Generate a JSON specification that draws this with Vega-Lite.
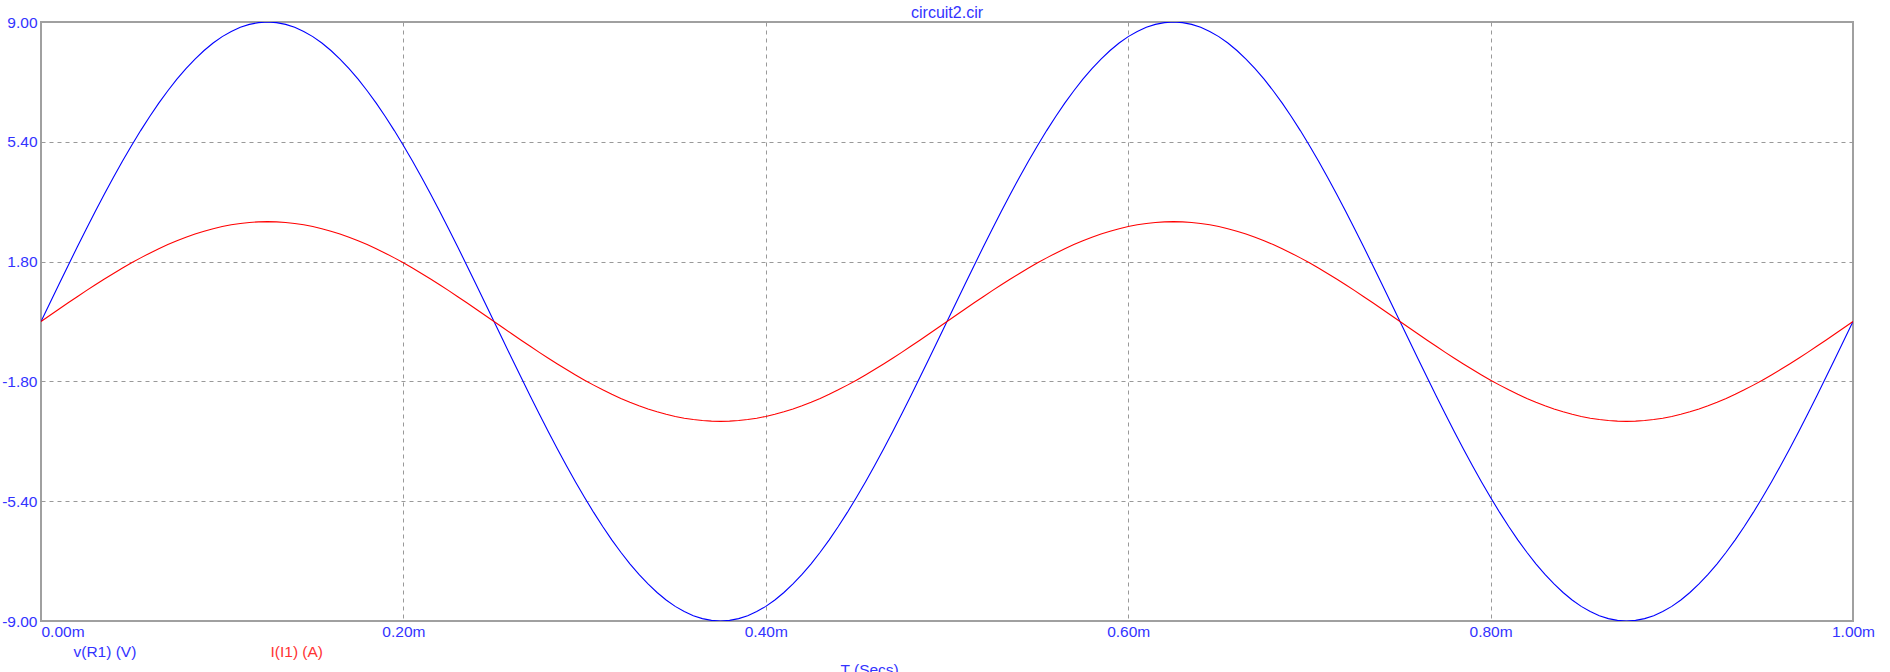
{
"$schema": "https://vega.github.io/schema/vega-lite/v6.json",
"width": 1812, "height": 599,
"autosize": {"type": "none"},
"padding": {"left": 41, "top": 22, "right": 37, "bottom": 51},
"background": "white",
"config": {"view": {"stroke": "#a0a0a0", "strokeWidth": 2}, "font": "Liberation Sans"},
"title": {"text": "circuit2.cir", "fontSize": 16, "color": "#3333ff", "font": "Liberation Sans", "fontWeight": "normal", "anchor": "middle", "offset": -6},
"data": {"values": [
{"t":0,"v":0,"i":0},{"t":0.005,"v":0.565,"i":0.188},{"t":0.01,"v":1.128,"i":0.376},{"t":0.015,"v":1.686,"i":0.562},{"t":0.02,"v":2.238,"i":0.746},{"t":0.025,"v":2.781,"i":0.927},{"t":0.03,"v":3.313,"i":1.104},{"t":0.035,"v":3.832,"i":1.277},{"t":0.04,"v":4.336,"i":1.445},{"t":0.045,"v":4.822,"i":1.607},{"t":0.05,"v":5.29,"i":1.763},{"t":0.055,"v":5.737,"i":1.912},{"t":0.06,"v":6.161,"i":2.054},{"t":0.065,"v":6.561,"i":2.187},{"t":0.07,"v":6.935,"i":2.312},{"t":0.075,"v":7.281,"i":2.427},{"t":0.08,"v":7.599,"i":2.533},{"t":0.085,"v":7.887,"i":2.629},{"t":0.09,"v":8.143,"i":2.714},{"t":0.095,"v":8.368,"i":2.789},{"t":0.1,"v":8.56,"i":2.853},{"t":0.105,"v":8.717,"i":2.906},{"t":0.11,"v":8.841,"i":2.947},{"t":0.115,"v":8.929,"i":2.976},{"t":0.12,"v":8.982,"i":2.994},{"t":0.125,"v":9,"i":3},
{"t":0.13,"v":8.982,"i":2.994},{"t":0.135,"v":8.929,"i":2.976},{"t":0.14,"v":8.841,"i":2.947},{"t":0.145,"v":8.717,"i":2.906},{"t":0.15,"v":8.56,"i":2.853},{"t":0.155,"v":8.368,"i":2.789},{"t":0.16,"v":8.143,"i":2.714},{"t":0.165,"v":7.887,"i":2.629},{"t":0.17,"v":7.599,"i":2.533},{"t":0.175,"v":7.281,"i":2.427},{"t":0.18,"v":6.935,"i":2.312},{"t":0.185,"v":6.561,"i":2.187},{"t":0.19,"v":6.161,"i":2.054},{"t":0.195,"v":5.737,"i":1.912},{"t":0.2,"v":5.29,"i":1.763},{"t":0.205,"v":4.822,"i":1.607},{"t":0.21,"v":4.336,"i":1.445},{"t":0.215,"v":3.832,"i":1.277},{"t":0.22,"v":3.313,"i":1.104},{"t":0.225,"v":2.781,"i":0.927},{"t":0.23,"v":2.238,"i":0.746},{"t":0.235,"v":1.686,"i":0.562},{"t":0.24,"v":1.128,"i":0.376},{"t":0.245,"v":0.565,"i":0.188},{"t":0.25,"v":0,"i":0},
{"t":0.255,"v":-0.565,"i":-0.188},{"t":0.26,"v":-1.128,"i":-0.376},{"t":0.265,"v":-1.686,"i":-0.562},{"t":0.27,"v":-2.238,"i":-0.746},{"t":0.275,"v":-2.781,"i":-0.927},{"t":0.28,"v":-3.313,"i":-1.104},{"t":0.285,"v":-3.832,"i":-1.277},{"t":0.29,"v":-4.336,"i":-1.445},{"t":0.295,"v":-4.822,"i":-1.607},{"t":0.3,"v":-5.29,"i":-1.763},{"t":0.305,"v":-5.737,"i":-1.912},{"t":0.31,"v":-6.161,"i":-2.054},{"t":0.315,"v":-6.561,"i":-2.187},{"t":0.32,"v":-6.935,"i":-2.312},{"t":0.325,"v":-7.281,"i":-2.427},{"t":0.33,"v":-7.599,"i":-2.533},{"t":0.335,"v":-7.887,"i":-2.629},{"t":0.34,"v":-8.143,"i":-2.714},{"t":0.345,"v":-8.368,"i":-2.789},{"t":0.35,"v":-8.56,"i":-2.853},{"t":0.355,"v":-8.717,"i":-2.906},{"t":0.36,"v":-8.841,"i":-2.947},{"t":0.365,"v":-8.929,"i":-2.976},{"t":0.37,"v":-8.982,"i":-2.994},{"t":0.375,"v":-9,"i":-3},
{"t":0.38,"v":-8.982,"i":-2.994},{"t":0.385,"v":-8.929,"i":-2.976},{"t":0.39,"v":-8.841,"i":-2.947},{"t":0.395,"v":-8.717,"i":-2.906},{"t":0.4,"v":-8.56,"i":-2.853},{"t":0.405,"v":-8.368,"i":-2.789},{"t":0.41,"v":-8.143,"i":-2.714},{"t":0.415,"v":-7.887,"i":-2.629},{"t":0.42,"v":-7.599,"i":-2.533},{"t":0.425,"v":-7.281,"i":-2.427},{"t":0.43,"v":-6.935,"i":-2.312},{"t":0.435,"v":-6.561,"i":-2.187},{"t":0.44,"v":-6.161,"i":-2.054},{"t":0.445,"v":-5.737,"i":-1.912},{"t":0.45,"v":-5.29,"i":-1.763},{"t":0.455,"v":-4.822,"i":-1.607},{"t":0.46,"v":-4.336,"i":-1.445},{"t":0.465,"v":-3.832,"i":-1.277},{"t":0.47,"v":-3.313,"i":-1.104},{"t":0.475,"v":-2.781,"i":-0.927},{"t":0.48,"v":-2.238,"i":-0.746},{"t":0.485,"v":-1.686,"i":-0.562},{"t":0.49,"v":-1.128,"i":-0.376},{"t":0.495,"v":-0.565,"i":-0.188},{"t":0.5,"v":0,"i":0},
{"t":0.505,"v":0.565,"i":0.188},{"t":0.51,"v":1.128,"i":0.376},{"t":0.515,"v":1.686,"i":0.562},{"t":0.52,"v":2.238,"i":0.746},{"t":0.525,"v":2.781,"i":0.927},{"t":0.53,"v":3.313,"i":1.104},{"t":0.535,"v":3.832,"i":1.277},{"t":0.54,"v":4.336,"i":1.445},{"t":0.545,"v":4.822,"i":1.607},{"t":0.55,"v":5.29,"i":1.763},{"t":0.555,"v":5.737,"i":1.912},{"t":0.56,"v":6.161,"i":2.054},{"t":0.565,"v":6.561,"i":2.187},{"t":0.57,"v":6.935,"i":2.312},{"t":0.575,"v":7.281,"i":2.427},{"t":0.58,"v":7.599,"i":2.533},{"t":0.585,"v":7.887,"i":2.629},{"t":0.59,"v":8.143,"i":2.714},{"t":0.595,"v":8.368,"i":2.789},{"t":0.6,"v":8.56,"i":2.853},{"t":0.605,"v":8.717,"i":2.906},{"t":0.61,"v":8.841,"i":2.947},{"t":0.615,"v":8.929,"i":2.976},{"t":0.62,"v":8.982,"i":2.994},{"t":0.625,"v":9,"i":3},
{"t":0.63,"v":8.982,"i":2.994},{"t":0.635,"v":8.929,"i":2.976},{"t":0.64,"v":8.841,"i":2.947},{"t":0.645,"v":8.717,"i":2.906},{"t":0.65,"v":8.56,"i":2.853},{"t":0.655,"v":8.368,"i":2.789},{"t":0.66,"v":8.143,"i":2.714},{"t":0.665,"v":7.887,"i":2.629},{"t":0.67,"v":7.599,"i":2.533},{"t":0.675,"v":7.281,"i":2.427},{"t":0.68,"v":6.935,"i":2.312},{"t":0.685,"v":6.561,"i":2.187},{"t":0.69,"v":6.161,"i":2.054},{"t":0.695,"v":5.737,"i":1.912},{"t":0.7,"v":5.29,"i":1.763},{"t":0.705,"v":4.822,"i":1.607},{"t":0.71,"v":4.336,"i":1.445},{"t":0.715,"v":3.832,"i":1.277},{"t":0.72,"v":3.313,"i":1.104},{"t":0.725,"v":2.781,"i":0.927},{"t":0.73,"v":2.238,"i":0.746},{"t":0.735,"v":1.686,"i":0.562},{"t":0.74,"v":1.128,"i":0.376},{"t":0.745,"v":0.565,"i":0.188},{"t":0.75,"v":0,"i":0},
{"t":0.755,"v":-0.565,"i":-0.188},{"t":0.76,"v":-1.128,"i":-0.376},{"t":0.765,"v":-1.686,"i":-0.562},{"t":0.77,"v":-2.238,"i":-0.746},{"t":0.775,"v":-2.781,"i":-0.927},{"t":0.78,"v":-3.313,"i":-1.104},{"t":0.785,"v":-3.832,"i":-1.277},{"t":0.79,"v":-4.336,"i":-1.445},{"t":0.795,"v":-4.822,"i":-1.607},{"t":0.8,"v":-5.29,"i":-1.763},{"t":0.805,"v":-5.737,"i":-1.912},{"t":0.81,"v":-6.161,"i":-2.054},{"t":0.815,"v":-6.561,"i":-2.187},{"t":0.82,"v":-6.935,"i":-2.312},{"t":0.825,"v":-7.281,"i":-2.427},{"t":0.83,"v":-7.599,"i":-2.533},{"t":0.835,"v":-7.887,"i":-2.629},{"t":0.84,"v":-8.143,"i":-2.714},{"t":0.845,"v":-8.368,"i":-2.789},{"t":0.85,"v":-8.56,"i":-2.853},{"t":0.855,"v":-8.717,"i":-2.906},{"t":0.86,"v":-8.841,"i":-2.947},{"t":0.865,"v":-8.929,"i":-2.976},{"t":0.87,"v":-8.982,"i":-2.994},{"t":0.875,"v":-9,"i":-3},
{"t":0.88,"v":-8.982,"i":-2.994},{"t":0.885,"v":-8.929,"i":-2.976},{"t":0.89,"v":-8.841,"i":-2.947},{"t":0.895,"v":-8.717,"i":-2.906},{"t":0.9,"v":-8.56,"i":-2.853},{"t":0.905,"v":-8.368,"i":-2.789},{"t":0.91,"v":-8.143,"i":-2.714},{"t":0.915,"v":-7.887,"i":-2.629},{"t":0.92,"v":-7.599,"i":-2.533},{"t":0.925,"v":-7.281,"i":-2.427},{"t":0.93,"v":-6.935,"i":-2.312},{"t":0.935,"v":-6.561,"i":-2.187},{"t":0.94,"v":-6.161,"i":-2.054},{"t":0.945,"v":-5.737,"i":-1.912},{"t":0.95,"v":-5.29,"i":-1.763},{"t":0.955,"v":-4.822,"i":-1.607},{"t":0.96,"v":-4.336,"i":-1.445},{"t":0.965,"v":-3.832,"i":-1.277},{"t":0.97,"v":-3.313,"i":-1.104},{"t":0.975,"v":-2.781,"i":-0.927},{"t":0.98,"v":-2.238,"i":-0.746},{"t":0.985,"v":-1.686,"i":-0.562},{"t":0.99,"v":-1.128,"i":-0.376},{"t":0.995,"v":-0.565,"i":-0.188},{"t":1,"v":0,"i":0}
]},
"transform": [{"fold": ["v", "i"], "as": ["s", "val"]}],
"mark": {"type": "line", "strokeWidth": 1.1, "clip": true},
"encoding": {
  "x": {"field": "t", "type": "quantitative",
    "scale": {"domain": [0, 1], "nice": false, "zero": false},
    "axis": {"values": [0, 0.2, 0.4, 0.6, 0.8, 1], "labelExpr": "format(datum.value, '.2f') + 'm'",
      "labelAlign": {"condition": {"test": "datum.value == 0", "value": "left"}, "value": "center"},
      "labelBound": false, "labelOverlap": false, "labelFlush": false,
      "grid": true, "gridDash": [4, 4], "gridColor": "#999999", "gridWidth": 1,
      "gridOpacity": {"condition": {"test": "datum.value == 0 || datum.value == 1", "value": 0}, "value": 1},
      "domain": false, "ticks": false, "tickSize": 0, "labelPadding": 3,
      "labelColor": "#3333ff", "labelFont": "Liberation Sans", "labelFontSize": 15.5,
      "title": "T (Secs)", "titleX": 799, "titleY": 53, "titleAlign": "left", "titleBaseline": "alphabetic", "titleAnchor": null,
      "titleColor": "#3333ff", "titleFont": "Liberation Sans", "titleFontSize": 15.5, "titleFontWeight": "normal"}},
  "y": {"field": "val", "type": "quantitative",
    "scale": {"domain": [-9, 9], "nice": false, "zero": false},
    "axis": {"values": [-9, -5.4, -1.8, 1.8, 5.4, 9],
      "labelExpr": "(datum.value < 0 ? '-' : '') + format(abs(datum.value), '.2f')",
      "grid": true, "gridDash": [4, 4], "gridColor": "#999999", "gridWidth": 1,
      "gridOpacity": {"condition": {"test": "abs(datum.value) > 8.9", "value": 0}, "value": 1},
      "domain": false, "ticks": false, "tickSize": 0, "labelPadding": 4, "labelBound": false, "labelOverlap": false, "labelFlush": false,
      "labelColor": "#3333ff", "labelFont": "Liberation Sans", "labelFontSize": 15.5, "title": null}},
  "color": {"field": "s", "type": "nominal",
    "scale": {"domain": ["v", "i"], "range": ["#0000ff", "#ff0000"]},
    "legend": {"orient": "none", "legendX": 17, "legendY": 622, "direction": "horizontal", "title": null,
      "symbolSize": 0, "symbolStrokeWidth": 0, "labelOffset": 0, "padding": 0, "columnPadding": 118,
      "labelFont": "Liberation Sans", "labelFontSize": 15.5,
      "labelExpr": "datum.label == 'v' ? 'v(R1) (V)' : 'I(I1) (A)'",
      "encode": {"labels": {"update": {"fill": {"signal": "datum.value == 'v' ? '#3333ff' : '#ff3333'"}}}}}}
}
}
